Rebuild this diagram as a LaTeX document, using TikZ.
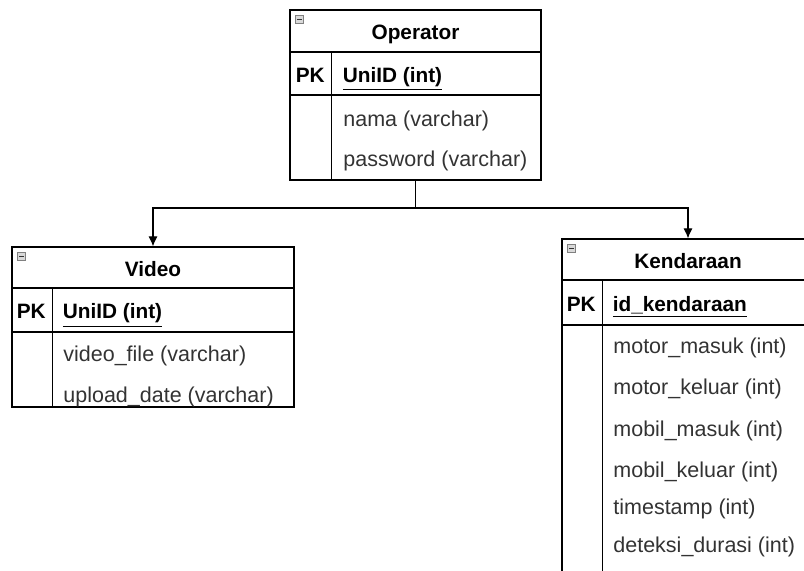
\documentclass[tikz,border=0pt]{standalone}
\usepackage{fontspec}
\setmainfont{Liberation Sans}
\usetikzlibrary{positioning, calc, arrows.meta}
\tikzset{
    tablebox/.style={draw, rectangle, line width=0.6pt, inner sep=0pt},
    titletext/.style={text height=9pt, text depth=0pt, font=\bfseries\fontsize{10.4}{12}\selectfont},
    pktext/.style={anchor=west, inner sep=0pt, text height=9pt, text depth=0pt, font=\bfseries\fontsize{10.4}{12}\selectfont},
    fieldtext/.style={anchor=base west, inner sep=0pt, text=black!80, font=\fontsize{10.75}{12}\selectfont},
    relation/.style={line width=0.6pt, -{Latex[length=5pt,width=4.6pt]}},
}
\newcommand{\minusbox}[1]{%
    \draw[gray, fill=gray!30, line width=0.3pt] ([shift={(3pt,-3pt)}]#1.north west) rectangle ++(4pt,-4pt);
    \draw[gray!40!black, line width=0.5pt] ([shift={(3.8pt,-5pt)}]#1.north west) -- ++(2.4pt,0);
}

\begin{document}
\begin{tikzpicture}[x=0.5pt,y=-0.5pt]
    \useasboundingbox (0,0) rectangle (804,571);

    % Operator
    \node[tablebox, titletext, minimum width=125.5pt, minimum height=21pt] (opTitle) at (415.5,31) {Operator};
    \node[tablebox, minimum width=125.5pt, minimum height=21.5pt] (opPK) at (415.5,73.5) {};
    \node[tablebox, minimum width=125.5pt, minimum height=42.5pt] (opBody) at (415.5,137.5) {};
    \draw[line width=0.6pt] ([xshift=21pt]opPK.north west) -- ([xshift=21pt]opBody.south west);
    \minusbox{opTitle}
    \node[pktext] (opPKlabel) at ([xshift=3pt]opPK.west) {PK};
    \node[pktext] (opKey) at ([xshift=26.5pt]opPK.west) {\underline{UniID (int)}};
    \node[fieldtext] (opF1) at (343,127) {nama (varchar)};
    \node[fieldtext] (opF2) at (343,167) {password (varchar)};

    % Video
    \node[tablebox, titletext, minimum width=141pt, minimum height=20.5pt] (vidTitle) at (153,267.5) {Video};
    \node[tablebox, minimum width=141pt, minimum height=22pt] (vidPK) at (153,310) {};
    \node[tablebox, minimum width=141pt, minimum height=37.5pt] (vidBody) at (153,369.5) {};
    \draw[line width=0.6pt] ([xshift=20.5pt]vidPK.north west) -- ([xshift=20.5pt]vidBody.south west);
    \minusbox{vidTitle}
    \node[pktext] (vidPKlabel) at ([xshift=2.5pt]vidPK.west) {PK};
    \node[pktext] (vidKey) at ([xshift=25.5pt]vidPK.west) {\underline{UniID (int)}};
    \node[fieldtext] (vidF1) at (63,362) {video\_file (varchar)};
    \node[fieldtext] (vidF2) at (63,403) {upload\_date (varchar)};

    % Kendaraan
    \node[tablebox, titletext, minimum width=126pt, minimum height=20.5pt] (kenTitle) at (688,259.5) {Kendaraan};
    \node[tablebox, minimum width=126pt, minimum height=22.5pt] (kenPK) at (688,302.5) {};
    \node[tablebox, minimum width=126pt, minimum height=132.5pt] (kenBody) at (688,457.5) {};
    \draw[line width=0.6pt] ([xshift=20.5pt]kenPK.north west) -- ([xshift=20.5pt]kenBody.south west);
    \minusbox{kenTitle}
    \node[pktext] (kenPKlabel) at ([xshift=2.5pt]kenPK.west) {PK};
    \node[pktext] (kenKey) at ([xshift=25.5pt]kenPK.west) {\underline{id\_kendaraan}};
    \node[fieldtext] (kenF1) at (613,354) {motor\_masuk (int)};
    \node[fieldtext] (kenF2) at (613,395) {motor\_keluar (int)};
    \node[fieldtext] (kenF3) at (613,437) {mobil\_masuk (int)};
    \node[fieldtext] (kenF4) at (613,478) {mobil\_keluar (int)};
    \node[fieldtext] (kenF5) at (613,515) {timestamp (int)};
    \node[fieldtext] (kenF6) at (613,553) {deteksi\_durasi (int)};

    % relations
    \coordinate (split) at (opBody.south |- 0,208);
    \draw[line width=0.6pt] (opBody.south) -- (split);
    \draw[relation] (split) -| (vidTitle.north);
    \draw[relation] (split) -| (kenTitle.north);
\end{tikzpicture}
\end{document}
